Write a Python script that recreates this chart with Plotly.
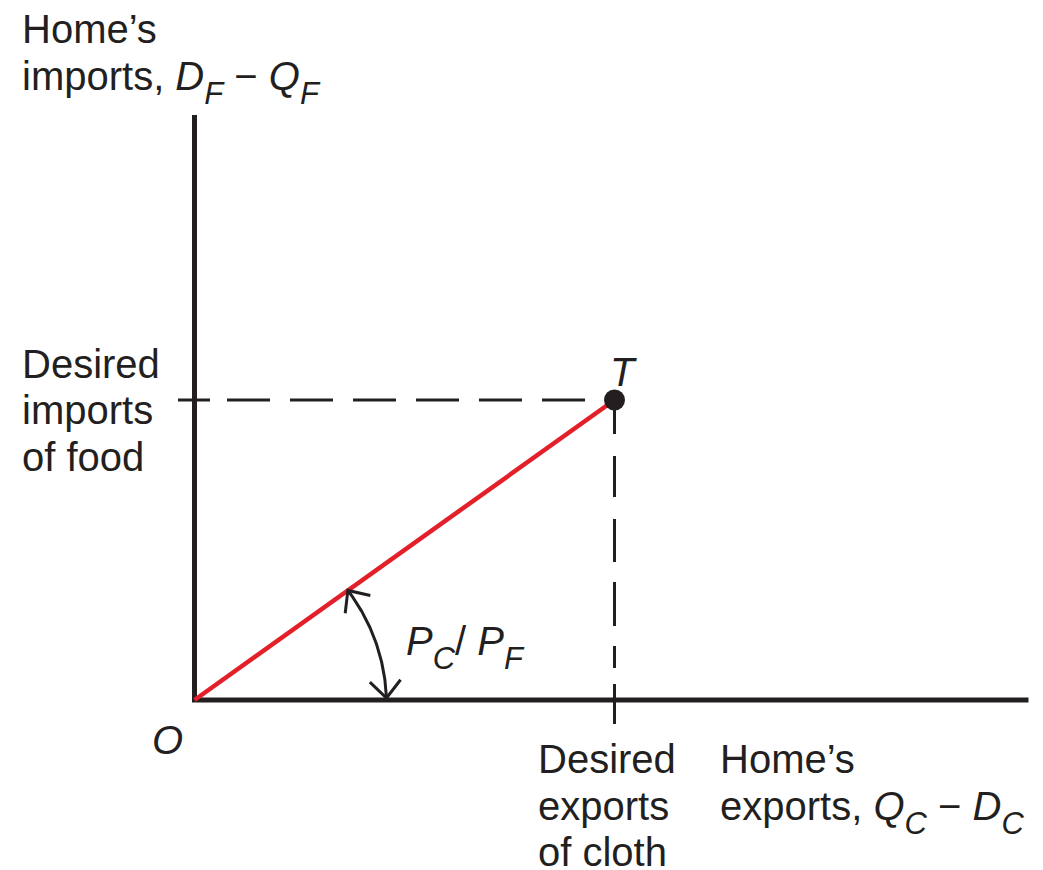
import math
import numpy as np
import plotly.graph_objects as go

# Home's trade point T: desired exports of cloth (x) and desired imports of food (y)
desired_exports_cloth = 42.0
desired_imports_food = 30.0

# Extent of the two drawn axes
x_axis_end = 83.4
y_axis_end = 58.5

INK = "#231f20"
RED = "#e3202a"
FONT = "Liberation Sans, Arial, Helvetica, sans-serif"
FS = 40


def sub(s):
    """Italic subscript, set lower and a little larger than Plotly's default."""
    return "<sub><sub><span style='font-size:31px'><i>%s</i></span></sub></sub>" % s


MINUS = " \u2212 "

fig = go.Figure()

# Axes drawn as one polyline so the corner at O joins cleanly
fig.add_trace(go.Scatter(
    x=[0, 0, x_axis_end], y=[y_axis_end, 0, 0], mode="lines",
    line=dict(color=INK, width=5), hoverinfo="skip"))

# Dashed guides from T to each axis
fig.add_trace(go.Scatter(
    x=[-1.65, desired_exports_cloth], y=[desired_imports_food, desired_imports_food],
    mode="lines", hoverinfo="skip",
    line=dict(color=INK, width=3,
              dash="32px,17px,43px,20px,43px,20px,43px,20px,43px,20px,43px,20px,43px,40px")))
fig.add_trace(go.Scatter(
    x=[desired_exports_cloth, desired_exports_cloth], y=[desired_imports_food, -2.5],
    mode="lines", hoverinfo="skip",
    line=dict(color=INK, width=3,
              dash="34px,22px,41px,22px,43px,20px,44px,20px,22px,16px,40px,20px")))

# Trade ray from O through T (slope = relative price of cloth)
fig.add_trace(go.Scatter(
    x=[0, desired_exports_cloth], y=[0, desired_imports_food], mode="lines",
    line=dict(color=RED, width=4.5), hoverinfo="skip"))

# Point T
fig.add_trace(go.Scatter(
    x=[desired_exports_cloth], y=[desired_imports_food], mode="markers",
    marker=dict(color=INK, size=21, line=dict(width=0)), hoverinfo="skip"))

# Angle arc between the x axis and the trade ray, with open arrowheads at both ends
ray_angle = math.atan2(desired_imports_food, desired_exports_cloth)
a0, a1 = math.radians(0.6), ray_angle
t = np.linspace(0, 1, 80)
ang = a0 + (a1 - a0) * t
rad = 19.2 + (18.85 - 19.2) * t
arc_x = rad * np.cos(ang)
arc_y = rad * np.sin(ang)
fig.add_trace(go.Scatter(x=arc_x, y=arc_y, mode="lines",
                         line=dict(color=INK, width=3), hoverinfo="skip"))


def head(tip_x, tip_y, back_x, back_y, length=2.3, half=math.radians(42)):
    n = math.hypot(back_x, back_y)
    bx, by = back_x / n, back_y / n
    pts = []
    for s in (1, -1):
        c, si = math.cos(s * half), math.sin(s * half)
        pts.append((tip_x + length * (bx * c - by * si), tip_y + length * (bx * si + by * c)))
    return [pts[0][0], tip_x, pts[1][0]], [pts[0][1], tip_y, pts[1][1]]


k = 9
hx0, hy0 = head(arc_x[0], arc_y[0], arc_x[k] - arc_x[0], arc_y[k] - arc_y[0])
hx1, hy1 = head(arc_x[-1], arc_y[-1], arc_x[-1 - k] - arc_x[-1], arc_y[-1 - k] - arc_y[-1])
fig.add_trace(go.Scatter(x=hx0 + [None] + hx1, y=hy0 + [None] + hy1, mode="lines",
                         line=dict(color=INK, width=3), hoverinfo="skip"))

# Text labels, one annotation per line
labels = [
    ("Home\u2019s", -17.4, 69.4),
    ("imports, <i>D</i>" + sub("F") + MINUS + "<i>Q</i>" + sub("F"), -17.4, 64.7),
    ("Desired", -17.4, 35.9),
    ("imports", -17.4, 31.3),
    ("of food", -17.4, 26.6),
    ("Desired", 34.25, -3.6),
    ("exports", 34.25, -8.3),
    ("of cloth", 34.25, -12.9),
    ("Home\u2019s", 52.45, -3.6),
    ("exports, <i>Q</i>" + sub("C") + MINUS + "<i>D</i>" + sub("C"), 52.45, -8.3),
    ("<i>P</i>" + sub("C") + "/ <i>P</i>" + sub("F"), 21.05, 8.2),
]
annotations = [
    dict(text=txt, x=x, y=y, xref="x", yref="y", xanchor="left", yanchor="top",
         showarrow=False, borderpad=0, align="left",
         font=dict(family=FONT, size=FS, color=INK))
    for txt, x, y in labels
]
annotations += [
    dict(text="<i>O</i>", x=-2.75, y=-4.0, xref="x", yref="y", xanchor="center",
         yanchor="middle", showarrow=False, borderpad=0,
         font=dict(family=FONT, size=FS, color=INK)),
    dict(text="<i>T</i>", x=42.85, y=32.8, xref="x", yref="y", xanchor="center",
         yanchor="middle", showarrow=False, borderpad=0,
         font=dict(family=FONT, size=FS, color=INK)),
]

fig.update_layout(
    width=1043, height=870,
    margin=dict(l=0, r=0, t=0, b=0),
    paper_bgcolor="white", plot_bgcolor="white",
    showlegend=False,
    xaxis=dict(range=[-19.45, 84.85], visible=False, fixedrange=True),
    yaxis=dict(range=[-17.0, 70.0], visible=False, fixedrange=True),
    annotations=annotations,
)

fig.write_html("out.html")
